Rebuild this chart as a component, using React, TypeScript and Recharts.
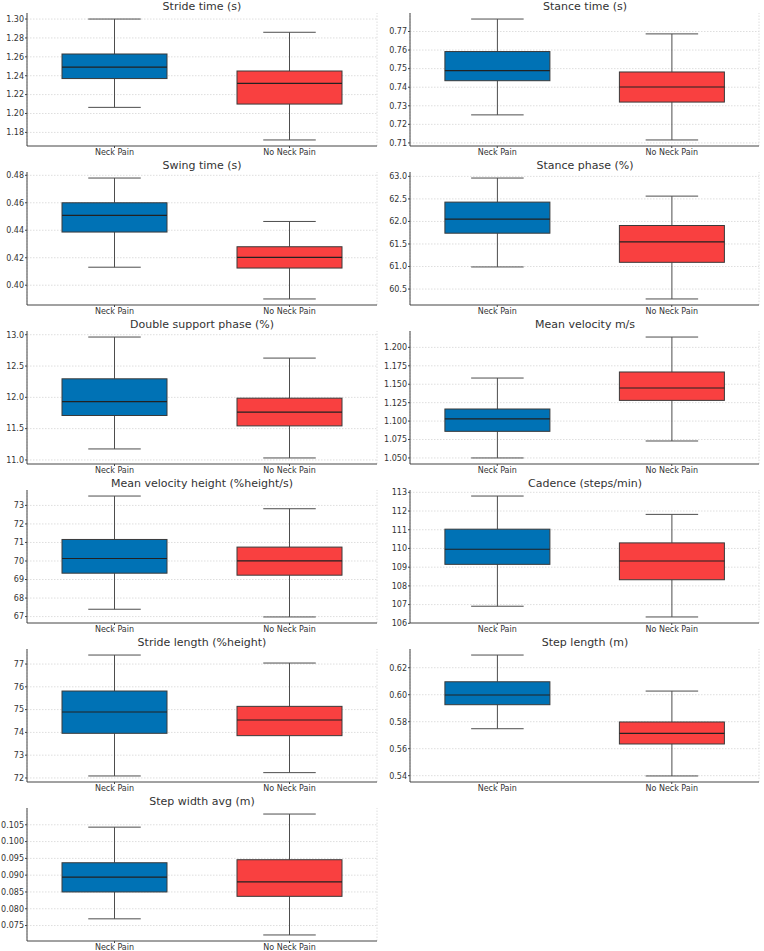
import React from "react";
import { ComposedChart, Bar, XAxis, YAxis, ReferenceLine } from "recharts";

const categories = ["Neck Pain", "No Neck Pain"];
const groupColors = ["#0072B5", "#F94040"];

// each array: [lower whisker, Q1, median, Q3, upper whisker]
const strideTimeNeck = [1.2065, 1.237, 1.249, 1.263, 1.3];
const strideTimeNoNeck = [1.172, 1.21, 1.232, 1.245, 1.286];
const strideTimeTicks = [1.18, 1.2, 1.22, 1.24, 1.26, 1.28, 1.3];

const stanceTimeNeck = [0.7251, 0.7435, 0.7489, 0.7592, 0.7767];
const stanceTimeNoNeck = [0.7116, 0.732, 0.7401, 0.7482, 0.7687];
const stanceTimeTicks = [0.71, 0.72, 0.73, 0.74, 0.75, 0.76, 0.77];

const swingTimeNeck = [0.4131, 0.4387, 0.4508, 0.46, 0.478];
const swingTimeNoNeck = [0.39, 0.4125, 0.4202, 0.428, 0.4464];
const swingTimeTicks = [0.4, 0.42, 0.44, 0.46, 0.48];

const stancePhaseNeck = [60.99, 61.739, 62.05, 62.429, 62.963];
const stancePhaseNoNeck = [60.28, 61.093, 61.546, 61.91, 62.562];
const stancePhaseTicks = [60.5, 61.0, 61.5, 62.0, 62.5, 63.0];

const doubleSupportNeck = [11.176, 11.71, 11.933, 12.296, 12.963];
const doubleSupportNoNeck = [11.032, 11.544, 11.763, 11.987, 12.627];
const doubleSupportTicks = [11.0, 11.5, 12.0, 12.5, 13.0];

const meanVelocityNeck = [1.05, 1.0861, 1.1029, 1.1164, 1.1584];
const meanVelocityNoNeck = [1.073, 1.1281, 1.1449, 1.1666, 1.214];
const meanVelocityTicks = [1.05, 1.075, 1.1, 1.125, 1.15, 1.175, 1.2];

const velocityHeightNeck = [67.396, 69.342, 70.135, 71.162, 73.505];
const velocityHeightNoNeck = [66.98, 69.234, 70.01, 70.75, 72.82];
const velocityHeightTicks = [67, 68, 69, 70, 71, 72, 73];

const cadenceNeck = [106.913, 109.151, 109.957, 111.03, 112.8];
const cadenceNoNeck = [106.34, 108.328, 109.33, 110.297, 111.82];
const cadenceTicks = [106, 107, 108, 109, 110, 111, 112, 113];

const strideLengthNeck = [72.088, 73.96, 74.895, 75.816, 77.395];
const strideLengthNoNeck = [72.234, 73.857, 74.544, 75.143, 77.044];
const strideLengthTicks = [72, 73, 74, 75, 76, 77];

const stepLengthNeck = [0.5748, 0.5926, 0.5998, 0.6096, 0.6294];
const stepLengthNoNeck = [0.5398, 0.5635, 0.5714, 0.5798, 0.6027];
const stepLengthTicks = [0.54, 0.56, 0.58, 0.6, 0.62];

const stepWidthNeck = [0.077, 0.085, 0.0894, 0.0937, 0.1043];
const stepWidthNoNeck = [0.0722, 0.0837, 0.088, 0.0946, 0.1082];
const stepWidthTicks = [0.075, 0.08, 0.085, 0.09, 0.095, 0.1, 0.105];

const panelTitles = [
  "Stride time (s)",
  "Stance time (s)",
  "Swing time (s)",
  "Stance phase (%)",
  "Double support phase (%)",
  "Mean velocity m/s",
  "Mean velocity height (%height/s)",
  "Cadence (steps/min)",
  "Stride length (%height)",
  "Step length (m)",
  "Step width avg (m)",
];

const panels = [
  { neck: strideTimeNeck, noNeck: strideTimeNoNeck, ticks: strideTimeTicks, dec: 2 },
  { neck: stanceTimeNeck, noNeck: stanceTimeNoNeck, ticks: stanceTimeTicks, dec: 2 },
  { neck: swingTimeNeck, noNeck: swingTimeNoNeck, ticks: swingTimeTicks, dec: 2 },
  { neck: stancePhaseNeck, noNeck: stancePhaseNoNeck, ticks: stancePhaseTicks, dec: 1 },
  { neck: doubleSupportNeck, noNeck: doubleSupportNoNeck, ticks: doubleSupportTicks, dec: 1 },
  { neck: meanVelocityNeck, noNeck: meanVelocityNoNeck, ticks: meanVelocityTicks, dec: 3 },
  { neck: velocityHeightNeck, noNeck: velocityHeightNoNeck, ticks: velocityHeightTicks, dec: 0 },
  { neck: cadenceNeck, noNeck: cadenceNoNeck, ticks: cadenceTicks, dec: 0 },
  { neck: strideLengthNeck, noNeck: strideLengthNoNeck, ticks: strideLengthTicks, dec: 0 },
  { neck: stepLengthNeck, noNeck: stepLengthNoNeck, ticks: stepLengthTicks, dec: 2 },
  { neck: stepWidthNeck, noNeck: stepWidthNoNeck, ticks: stepWidthTicks, dec: 3 },
];

const FONT = "'DejaVu Sans', sans-serif";
const ROW_H = 159;
const COL_W = 382;
const GRID = "#dedede";
const GRID_DASH = "1.5 1.5";
const MARGIN = { top: 13, right: 5, left: 0, bottom: 0 };

function BoxShape(props: any) {
  const { x, y, width, height, payload } = props;
  if (x == null || y == null || !payload) return null;
  const top = Math.min(y, y + height);
  const bottom = Math.max(y, y + height);
  const [lo, q1, med, q3, hi] = payload.stats as number[];
  const span = hi - lo;
  const py = (v: number) => bottom - ((v - lo) / span) * (bottom - top);
  const cx = x + width / 2;
  const capHalf = width / 4;
  const wc = "#4d4d4d";
  return (
    <g>
      <line x1={cx} x2={cx} y1={py(hi)} y2={py(q3)} stroke={wc} strokeWidth={1} />
      <line x1={cx} x2={cx} y1={py(q1)} y2={py(lo)} stroke={wc} strokeWidth={1} />
      <line x1={cx - capHalf} x2={cx + capHalf} y1={py(hi)} y2={py(hi)} stroke={wc} strokeWidth={1} />
      <line x1={cx - capHalf} x2={cx + capHalf} y1={py(lo)} y2={py(lo)} stroke={wc} strokeWidth={1} />
      <rect
        x={x}
        y={py(q3)}
        width={width}
        height={py(q1) - py(q3)}
        fill={payload.color}
        stroke="#3a3a3a"
        strokeWidth={1}
      />
      <line x1={x} x2={x + width} y1={py(med)} y2={py(med)} stroke="#222" strokeWidth={1.2} />
    </g>
  );
}

function Panel({ idx }: { idx: number }) {
  const p = panels[idx];
  const col = idx % 2;
  const row = Math.floor(idx / 2);
  const data = categories.map((name, i) => ({
    name,
    stats: i === 0 ? p.neck : p.noNeck,
    color: groupColors[i],
  }));
  const lo = Math.min(p.neck[0], p.noNeck[0]);
  const hi = Math.max(p.neck[4], p.noNeck[4]);
  const pad = (hi - lo) * 0.05;
  const domain = [lo - pad, hi + pad];
  const yw = col === 0 ? 27 : 28;
  const tickStyle = { fontSize: 8, fill: "#333", fontFamily: FONT };
  const rangeKey = (d: any) => [d.stats[0], d.stats[4]];

  return (
    <div style={{ position: "absolute", left: col * COL_W, top: row * ROW_H, width: COL_W, height: ROW_H }}>
      {/* background layer: grid lines only */}
      <div style={{ position: "absolute", left: 0, top: 0 }}>
        <ComposedChart width={COL_W} height={ROW_H} data={data} margin={MARGIN} barCategoryGap="20%">
          <XAxis dataKey="name" interval={0} height={13} axisLine={false} tickLine={false} tick={false} />
          <YAxis
            type="number"
            width={yw}
            domain={domain}
            ticks={p.ticks}
            allowDataOverflow
            axisLine={false}
            tickLine={false}
            tick={false}
          />
          {p.ticks.map((t) => (
            <ReferenceLine key={"h" + t} y={t} stroke={GRID} strokeDasharray={GRID_DASH} />
          ))}
          {categories.map((c) => (
            <ReferenceLine key={"v" + c} x={c} stroke={GRID} strokeDasharray={GRID_DASH} />
          ))}
        </ComposedChart>
      </div>
      {/* foreground layer: axes and boxes */}
      <div style={{ position: "absolute", left: 0, top: 0 }}>
        <ComposedChart width={COL_W} height={ROW_H} data={data} margin={MARGIN} barCategoryGap="20%">
          <XAxis
            dataKey="name"
            interval={0}
            height={13}
            tickSize={2}
            tickMargin={1}
            axisLine={{ stroke: "#444" }}
            tickLine={{ stroke: "#444" }}
            tick={tickStyle}
          />
          <YAxis
            type="number"
            width={yw}
            domain={domain}
            ticks={p.ticks}
            allowDataOverflow
            interval={0}
            tickSize={2}
            tickMargin={1}
            tickFormatter={(v: number) => v.toFixed(p.dec)}
            axisLine={{ stroke: "#444" }}
            tickLine={{ stroke: "#444" }}
            tick={tickStyle}
          />
          <Bar dataKey={rangeKey} shape={<BoxShape />} isAnimationActive={false} />
        </ComposedChart>
      </div>
    </div>
  );
}

export default function App() {
  return (
    <div
      style={{
        position: "absolute",
        left: 0,
        top: 0,
        width: 764,
        height: 951,
        background: "#fff",
        fontFamily: FONT,
      }}
    >
      {panels.map((_, i) => (
        <Panel key={i} idx={i} />
      ))}
      <svg
        width={764}
        height={951}
        style={{ position: "absolute", left: 0, top: 0, pointerEvents: "none" }}
      >
        {panelTitles.map((t, i) => {
          const col = i % 2;
          const row = Math.floor(i / 2);
          return (
            <text
              key={t}
              x={col === 0 ? 202 : 585}
              y={row * ROW_H + 10}
              textAnchor="middle"
              fontSize={11}
              fill="#333"
              fontFamily={FONT}
            >
              {t}
            </text>
          );
        })}
      </svg>
    </div>
  );
}
